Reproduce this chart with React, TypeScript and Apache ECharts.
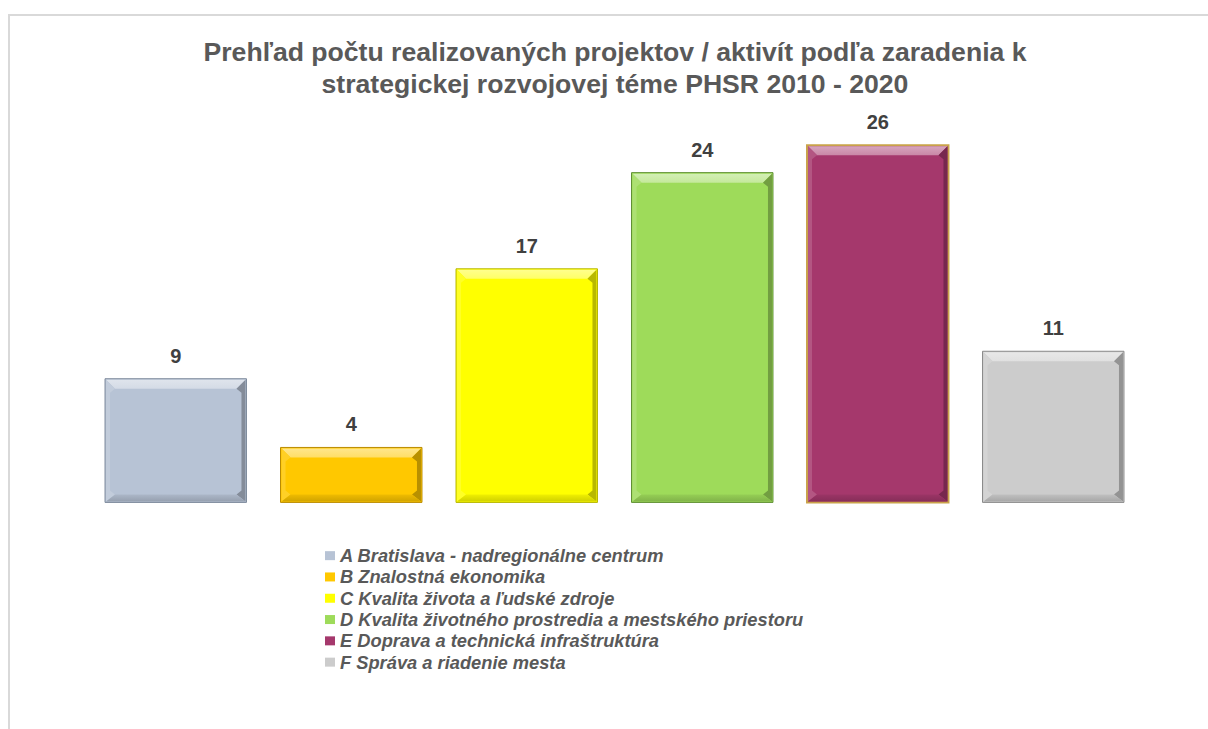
import React, { useEffect, useRef } from "react";
import * as echarts from "echarts";

const titleLines = [
  "Prehľad počtu realizovaných projektov / aktivít podľa zaradenia k",
  "strategickej rozvojovej téme PHSR 2010 - 2020",
];
const categories = [
  "A Bratislava - nadregionálne centrum",
  "B Znalostná ekonomika",
  "C Kvalita života a ľudské zdroje",
  "D Kvalita životného prostredia a mestského priestoru",
  "E Doprava a technická infraštruktúra",
  "F Správa a riadenie mesta",
];
const values = [9, 4, 17, 24, 26, 11];
const colors = ["#b7c3d5", "#ffc800", "#ffff00", "#9edb5a", "#a5386c", "#cccccc"];
const borderColors = ["#7d899b", "#b98a00", "#b5b500", "#5f8f33", "#c9a24a", "#8a8a8a"];

function mix(hex: string, target: string, t: number): string {
  const p = (h: string) => [1, 3, 5].map((i) => parseInt(h.slice(i, i + 2), 16));
  const a = p(hex);
  const b = p(target);
  const c = a.map((v, i) => Math.round(v + (b[i] - v) * t));
  return "#" + c.map((v) => v.toString(16).padStart(2, "0")).join("");
}

export default function App() {
  const ref = useRef<HTMLDivElement>(null);
  useEffect(() => {
    if (!ref.current) return;
    const chart = echarts.init(ref.current, undefined, { renderer: "svg" });

    const series = categories.map((name, idx) => ({
      type: "custom",
      name,
      itemStyle: { color: colors[idx] },
      encode: { x: 0, y: 1 },
      data: [[idx, values[idx]]],
      renderItem: (params: any, api: any) => {
        const xi = api.value(0);
        const v = api.value(1);
        const top = api.coord([xi, v]);
        const base = api.coord([xi, 0]);
        const w = api.size([1, 0])[0] * 0.806;
        const x0 = top[0] - w / 2;
        const x1 = top[0] + w / 2;
        const y0 = top[1];
        const y1 = base[1];
        const bt = 10;
        const bb = 8;
        const bs = 5;
        const c = colors[idx];
        const topC = mix(c, "#ffffff", 0.4);
        const leftC = mix(c, "#ffffff", 0.15);
        const rightC = mix(c, "#000000", 0.28);
        const botC = mix(c, "#000000", 0.18);
        return {
          type: "group",
          children: [
            {
              type: "rect",
              shape: { x: x0, y: y0, width: w, height: y1 - y0 },
              style: { fill: c, stroke: borderColors[idx], lineWidth: idx === 4 ? 2 : 1 },
            },
            {
              type: "polygon",
              shape: { points: [[x0 + 1, y0 + 1], [x1 - 1, y0 + 1], [x1 - bs - 5, y0 + bt], [x0 + bs + 5, y0 + bt]] },
              style: { fill: { type: "linear", x: 0, y: 0, x2: 0, y2: 1, colorStops: [{ offset: 0, color: mix(c, "#ffffff", 0.55) }, { offset: 1, color: topC }] } },
            },
            {
              type: "polygon",
              shape: { points: [[x0 + 1, y0 + 1], [x0 + bs + 5, y0 + bt], [x0 + bs, y0 + bt + 4], [x0 + bs, y1 - bb - 4], [x0 + bs + 5, y1 - bb], [x0 + 1, y1 - 1]] },
              style: { fill: leftC },
            },
            {
              type: "polygon",
              shape: { points: [[x1 - 1, y0 + 1], [x1 - bs - 5, y0 + bt], [x1 - bs, y0 + bt + 4], [x1 - bs, y1 - bb - 4], [x1 - bs - 5, y1 - bb], [x1 - 1, y1 - 1]] },
              style: { fill: rightC },
            },
            {
              type: "polygon",
              shape: { points: [[x0 + 1, y1 - 1], [x0 + bs + 5, y1 - bb], [x1 - bs - 5, y1 - bb], [x1 - 1, y1 - 1]] },
              style: { fill: { type: "linear", x: 0, y: 0, x2: 0, y2: 1, colorStops: [{ offset: 0, color: mix(c, "#000000", 0.06) }, { offset: 1, color: botC }] } },
            },
            {
              type: "text",
              x: top[0],
              y: y0 - 13,
              style: {
                text: String(v),
                fill: "#404040",
                font: "bold 20px 'Liberation Sans', Arial, sans-serif",
                align: "center",
                verticalAlign: "bottom",
              },
            },
          ],
        };
      },
    }));

    chart.setOption({
      animation: false,
      backgroundColor: "#ffffff",
      title: {
        text: titleLines.join("\n"),
        left: 615,
        textAlign: "center",
        top: 36,
        padding: 0,
        textStyle: {
          fontFamily: "'Liberation Sans', Arial, sans-serif",
          fontWeight: "bold",
          fontSize: 26.6,
          lineHeight: 32,
          color: "#595959",
        },
      },
      graphic: [
        {
          type: "rect",
          shape: { x: 9, y: 15, width: 1400, height: 900 },
          style: { fill: "none", stroke: "#d9d9d9", lineWidth: 2 },
          silent: true,
        },
      ],
      legend: {
        orient: "vertical",
        left: 325,
        top: 545,
        padding: 0,
        itemWidth: 10,
        itemHeight: 9,
        itemGap: 0,
        icon: "rect",
        selectedMode: false,
        data: categories.map((name, i) => ({ name, itemStyle: { color: colors[i] } })),
        textStyle: {
          fontFamily: "'Liberation Sans', Arial, sans-serif",
          fontStyle: "italic",
          fontWeight: "bold",
          fontSize: 18.3,
          lineHeight: 21.3,
          color: "#595959",
        },
      },
      grid: { left: 88, right: 67, top: 90.2, bottom: 226.6 },
      xAxis: {
        type: "category",
        data: categories,
        show: false,
      },
      yAxis: {
        type: "value",
        min: 0,
        max: 30,
        show: false,
        splitLine: { show: false },
      },
      series,
    });
    return () => chart.dispose();
  }, []);
  return (
    <div
      ref={ref}
      style={{ position: "fixed", left: 0, top: 0, width: 1208, height: 729 }}
    />
  );
}
